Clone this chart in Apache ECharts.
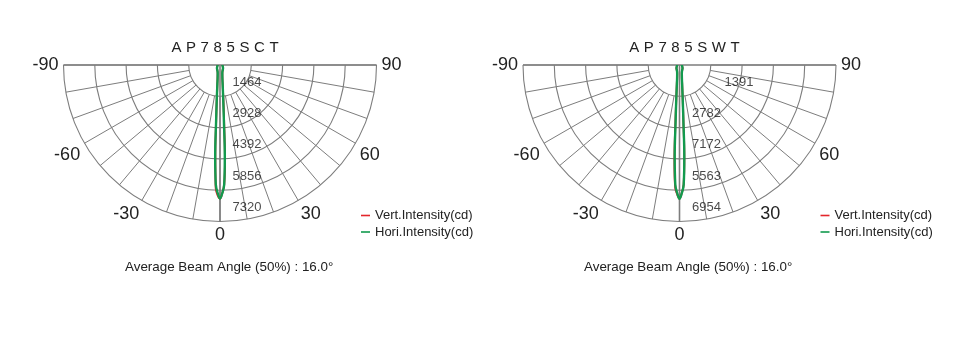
<!DOCTYPE html>
<html><head><meta charset="utf-8">
<script src="https://cdn.jsdelivr.net/npm/echarts@6/dist/echarts.min.js"></script>
<style>html,body{margin:0;padding:0;background:#fff}#c{width:974px;height:359px}</style>
</head><body><div id="c"></div>
<script>
// ---------------- data ----------------
const models = ['AP785SCT', 'AP785SWT'];
const beamText = 'Average Beam Angle (50%) : 16.0°';
const seriesNames = ['Vert.Intensity(cd)', 'Hori.Intensity(cd)'];
const radiusMax = [7320, 6954];
const ringLabelsSCT = ['1464', '2928', '4392', '5856', '7320'];
const ringLabelsSWT = ['1391', '2782', '7172', '5563', '6954'];
const angleLabels = [-90, -60, -30, 0, 30, 60, 90];
const gamma = [-180, -135, -90, -60, -45, -30, -20, -15, -10, -8, -6, -5, -4, -3, -2, -1, 0,
               1, 2, 3, 4, 5, 6, 8, 10, 15, 20, 30, 45, 60, 90, 135, 180];
const sctVert = [190, 110, 110, 150, 200, 260, 330, 420, 650, 880, 1350, 1800, 2600, 4200, 5750, 6100, 6250,
                 6000, 5600, 4500, 2800, 1950, 1400, 900, 650, 420, 330, 260, 200, 150, 110, 110, 190];
const sctHori = [190, 110, 110, 150, 200, 260, 330, 420, 650, 880, 1350, 1800, 2600, 4300, 5600, 6000, 6250,
                 6000, 5600, 4300, 2600, 1800, 1350, 880, 650, 420, 330, 260, 200, 150, 110, 110, 190];
const swtVert = [180, 105, 105, 140, 190, 245, 315, 400, 620, 840, 1300, 1750, 2650, 4300, 5450, 5750, 5940,
                 5700, 5300, 4080, 2470, 1710, 1280, 835, 620, 400, 315, 245, 190, 140, 105, 105, 180];
const swtHori = [180, 105, 105, 140, 190, 245, 315, 400, 620, 835, 1280, 1710, 2470, 4080, 5320, 5700, 5940,
                 5700, 5320, 4080, 2470, 1710, 1280, 835, 620, 400, 315, 245, 190, 140, 105, 105, 180];

// ---------------- layout / style ----------------
const centers = [[220, 65], [679.5, 65]];
const R = 156.5, R0 = 31.3;
const GRID = '#7d7d7d';
const FONT = '"Liberation Sans", Arial, Helvetica, sans-serif';
const RED = '#e3262b', GREEN = '#129a4e';
const ringLabels = [ringLabelsSCT, ringLabelsSWT];
const curves = [[sctVert, sctHori], [swtVert, swtHori]];

const polar = [], angleAxis = [], radiusAxis = [], series = [], title = [], legend = [];
centers.forEach((c, k) => {
  const step = radiusMax[k] / 5;
  // grid polar (hollow center)
  polar.push({ center: c, radius: [R0, R] });
  angleAxis.push({
    polarIndex: 2 * k, type: 'value', min: -90, max: 90, interval: 10,
    startAngle: 180, endAngle: 360, clockwise: false,
    axisLine: { show: false },
    axisTick: { show: false },
    axisLabel: { show: true, margin: 5, fontSize: 18, color: '#222', fontFamily: FONT,
      formatter: v => angleLabels.indexOf(v) >= 0 ? String(v) : '' },
    splitLine: { show: true, lineStyle: { color: GRID, width: 1 } }
  });
  radiusAxis.push({
    polarIndex: 2 * k, type: 'value', min: step, max: radiusMax[k], interval: step,
    axisLine: { show: false }, axisTick: { show: false }, axisLabel: { show: false },
    splitLine: { show: true, lineStyle: { color: GRID, width: 1.1 } }
  });
  // data polar (full radius)
  polar.push({ center: c, radius: [0, R] });
  angleAxis.push({
    polarIndex: 2 * k + 1, type: 'value', min: -90, max: 90, interval: 90,
    startAngle: 180, endAngle: 360, clockwise: false,
    axisLine: { show: false }, axisTick: { show: false }, axisLabel: { show: false },
    splitLine: { show: true, lineStyle: { color: GRID, width: 1.6 } }
  });
  radiusAxis.push({
    polarIndex: 2 * k + 1, type: 'value', min: 0, max: radiusMax[k],
    axisLine: { show: false }, axisTick: { show: false }, axisLabel: { show: false },
    splitLine: { show: false }
  });
  // curves
  curves[k].forEach((vals, j) => {
    series.push({
      name: seriesNames[j], type: 'line', coordinateSystem: 'polar', polarIndex: 2 * k + 1,
      data: gamma.map((a, i) => [vals[i], a]),
      symbol: 'none', smooth: 0.4, clip: false, silent: true,
      lineStyle: { color: j === 0 ? RED : GREEN, width: j === 0 ? 2 : 2.4 },
      itemStyle: { color: j === 0 ? RED : GREEN },
      z: 5 + j
    });
  });
  // ring labels
  series.push({
    type: 'scatter', coordinateSystem: 'polar', polarIndex: 2 * k + 1, silent: true,
    symbolSize: 0,
    data: ringLabels[k].map((t, i) => ({
      value: [step * (i + 1), 0],
      label: { position: [(k === 1 && i === 0) ? 45 : 12.5, -14] }
    })),
    label: { show: true, formatter: p => ringLabels[k][p.dataIndex], align: 'left', verticalAlign: 'middle',
      fontSize: 13, color: '#1a1a1a', fontFamily: FONT },
    z: 8
  });
  // titles
  title.push({
    text: models[k].split('').map(ch => '{s|' + ch + '}').join(''),
    left: c[0], top: 35, textAlign: 'center',
    textStyle: { fontSize: 15, fontWeight: 'normal', color: '#222', fontFamily: FONT,
      rich: { s: { fontSize: 15, color: '#222', fontFamily: FONT, padding: [0, 2.3] } } }
  });
  title.push({
    text: beamText, left: k === 0 ? 120 : 579, top: 256,
    textStyle: { fontSize: 13.4, fontWeight: 'normal', color: '#222', fontFamily: FONT }
  });
  legend.push({
    left: k === 0 ? 361 : 820.5, top: 209, orient: 'vertical', itemGap: 3.5,
    itemWidth: 9, itemHeight: 1.6, icon: 'rect', padding: 0, selectedMode: false,
    data: seriesNames,
    textStyle: { fontSize: 13, color: '#222', fontFamily: FONT }
  });
});

const chart = echarts.init(document.getElementById('c'), null, { renderer: 'canvas' });
chart.setOption({
  animation: false, backgroundColor: '#fff',
  title, legend, polar, angleAxis, radiusAxis, series
});
</script>
</body></html>
